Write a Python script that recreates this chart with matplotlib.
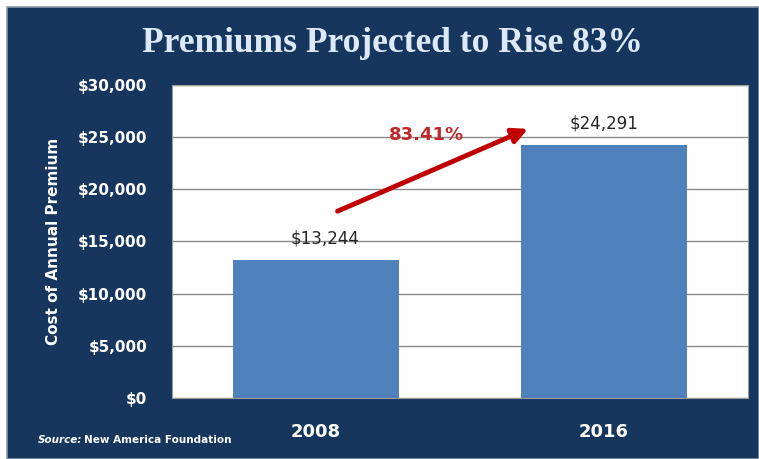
import matplotlib
matplotlib.use("Agg")
import matplotlib.pyplot as plt
from matplotlib.patches import Rectangle

YEARS = ["2008", "2016"]
PREMIUMS = [13244, 24291]
BAR_LABELS = ["$13,244", "$24,291"]
YTICKS = [0, 5000, 10000, 15000, 20000, 25000, 30000]
YTICK_LABELS = ["$0", "$5,000", "$10,000", "$15,000", "$20,000", "$25,000", "$30,000"]
GROWTH = "83.41%"

NAVY = "#17365d"
BAR = "#4f81bd"

fig = plt.figure(figsize=(7.59, 4.59), dpi=100)
fig.patch.set_facecolor("white")
W, H = 759, 459
fig.patches.append(Rectangle((7 / W, 0), 1 - 7 / W, 1 - 7 / H, transform=fig.transFigure,
                             facecolor=NAVY, edgecolor="#8c96a3", linewidth=1.2, zorder=-5))

fig.text(392 / W, 1 - 44 / H, "Premiums Projected to Rise 83%", ha="center", va="center",
         fontsize=25.5, fontweight="bold", family="Liberation Serif", color="#dce9f8")

ax = fig.add_axes([172 / W, 1 - 398 / H, (748 - 172) / W, (398 - 85) / H])
ax.set_zorder(2)
ax.set_facecolor("white")
x = range(len(YEARS))
ax.bar(x, PREMIUMS, width=0.575, color=BAR, zorder=2)
ax.set_xlim(-0.5, 1.5)
ax.set_ylim(0, 30000)
ax.set_yticks(YTICKS)
ax.set_yticklabels(YTICK_LABELS)
ax.set_xticks(list(x))
ax.set_xticklabels(YEARS)
ax.grid(axis="y", color="#8a8a8a", linewidth=1.0, zorder=1)
ax.tick_params(length=0, colors="white")
ax.tick_params(axis="y", pad=18, labelsize=11)
ax.tick_params(axis="x", pad=18, labelsize=13)
for lbl in ax.get_yticklabels() + ax.get_xticklabels():
    lbl.set_fontweight("bold")
for s in ax.spines.values():
    s.set_color("#9a9a9a")
ax.set_ylabel("Cost of Annual Premium", color="white", fontweight="bold", fontsize=11, labelpad=12)

offsets = [(0.03, 1200), (0.0, 1200)]
for xi, v, t, (dx, dy) in zip(x, PREMIUMS, BAR_LABELS, offsets):
    ax.text(xi + dx, v + dy, t, ha="center", va="bottom", fontsize=12, color="#262626")

ax.annotate("", xy=(0.745, 25900), xytext=(0.066, 17800),
            arrowprops=dict(arrowstyle="-|>,head_length=0.9,head_width=0.45",
                            color="#c00000", lw=3.5), zorder=4)
ax.text(0.385, 25200, GROWTH, ha="center", va="center", fontsize=13,
        fontweight="bold", color="#c0282d", zorder=5)

fig.text(38 / W, 1 - 440 / H, "Source:", ha="left", va="center", fontsize=7.5,
         style="italic", fontweight="bold", color="white")
fig.text(84 / W, 1 - 440 / H, "New America Foundation", ha="left", va="center",
         fontsize=7.5, fontweight="bold", color="white")

fig.savefig("out.png", dpi=100, facecolor=fig.get_facecolor())
